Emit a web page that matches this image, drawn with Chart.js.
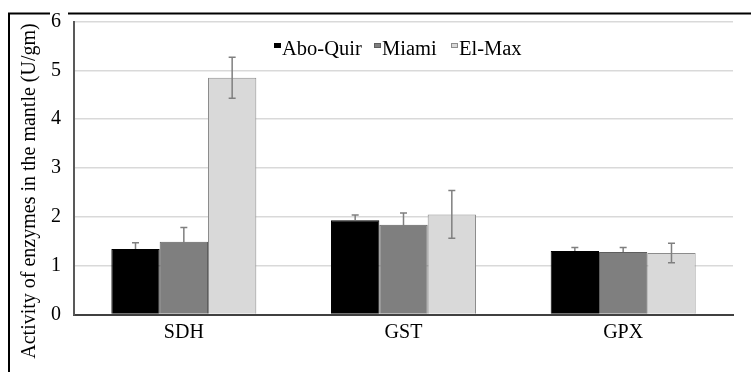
<!DOCTYPE html>
<html>
<head>
<meta charset="utf-8">
<script src="https://cdn.jsdelivr.net/npm/chart.js@4.4.1/dist/chart.umd.min.js"></script>
<style>
  html, body { margin: 0; padding: 0; background: #fff; }
  #wrap { width: 751px; height: 372px; }
</style>
</head>
<body>
<div id="wrap"><canvas id="c" width="751" height="372"></canvas></div>
<script>
// ---- data ----
const categories = ['SDH', 'GST', 'GPX'];
const seriesNames = ['Abo-Quir', 'Miami', 'El-Max'];
const aboQuir = [1.34, 1.93, 1.30];
const miami   = [1.49, 1.84, 1.28];
const elMax   = [4.85, 2.05, 1.26];
const aboQuirErr = [0.13, 0.11, 0.07];
const miamiErr   = [0.29, 0.24, 0.09];
const elMaxErr   = [0.42, 0.49, 0.20];
const yTicks = [0, 1, 2, 3, 4, 5, 6];
const yTitle = 'Activity of enzymes in the mantle (U/gm)';

const FONT = "'Liberation Serif', 'Times New Roman', serif";
const fills = ['#000000', '#7f7f7f', '#d9d9d9'];
const borders = ['#000000', '#5e5e5e', '#8c8c8c'];
const errs = [aboQuirErr, miamiErr, elMaxErr];

const errorBarPlugin = {
  id: 'errorBars',
  afterDatasetsDraw(chart) {
    const ctx = chart.ctx;
    const y = chart.scales.y;
    ctx.save();
    ctx.globalCompositeOperation = 'darken';
    ctx.strokeStyle = '#7f7f7f';
    ctx.lineWidth = 1.5;
    chart.data.datasets.forEach((ds, di) => {
      const meta = chart.getDatasetMeta(di);
      meta.data.forEach((bar, i) => {
        const v = ds.data[i], e = ds.errors[i];
        const x = bar.x;
        const yt = y.getPixelForValue(v + e);
        const yb = y.getPixelForValue(v - e);
        ctx.beginPath();
        ctx.moveTo(x, yt); ctx.lineTo(x, yb);
        ctx.moveTo(x - 3.5, yt); ctx.lineTo(x + 3.5, yt);
        ctx.moveTo(x - 3.5, yb); ctx.lineTo(x + 3.5, yb);
        ctx.stroke();
      });
    });
    ctx.restore();
  }
};

const decorPlugin = {
  id: 'decor',
  beforeDraw(chart) {
    const ctx = chart.ctx;
    ctx.save();
    ctx.fillStyle = '#fff';
    ctx.fillRect(0, 0, chart.width, chart.height);
    ctx.restore();
  },
  afterDraw(chart) {
    const ctx = chart.ctx;
    ctx.save();
    // outer frame (top line broken around the top tick label, left line)
    ctx.strokeStyle = '#000';
    ctx.lineWidth = 2;
    ctx.beginPath();
    ctx.moveTo(9, 372); ctx.lineTo(9, 13.5); ctx.lineTo(50, 13.5);
    ctx.moveTo(68, 13.5); ctx.lineTo(751, 13.5);
    ctx.stroke();
    // y axis title
    ctx.fillStyle = '#000';
    ctx.font = '20px ' + FONT;
    ctx.translate(35, 191);
    ctx.rotate(-Math.PI / 2);
    ctx.textAlign = 'center';
    ctx.textBaseline = 'alphabetic';
    ctx.fillText(yTitle, 0, 0);
    ctx.restore();

    // legend
    ctx.save();
    ctx.font = '20.5px ' + FONT;
    ctx.textBaseline = 'alphabetic';
    ctx.textAlign = 'left';
    const starts = [274, 374, 451];
    chart.data.datasets.forEach((ds, di) => {
      const x0 = starts[di];
      ctx.fillStyle = ds.backgroundColor;
      ctx.fillRect(x0, 43, 7, 5);
      if (di > 0) {
        ctx.strokeStyle = ds.borderColor;
        ctx.lineWidth = 1;
        ctx.strokeRect(x0 + 0.5, 43.5, 6, 4);
      }
      ctx.fillStyle = '#000';
      ctx.fillText(ds.label, x0 + 8, 54.5);
    });
    ctx.restore();
  }
};

const datasets = seriesNames.map((name, i) => ({
  label: name,
  data: [aboQuir, miami, elMax][i],
  errors: errs[i],
  backgroundColor: fills[i],
  borderColor: borders[i],
  borderWidth: 1,
  categoryPercentage: 0.66,
  barPercentage: 1.0
}));

new Chart(document.getElementById('c'), {
  type: 'bar',
  data: { labels: categories, datasets },
  options: {
    responsive: false,
    animation: false,
    layout: { padding: { top: 21.5, right: 18, left: 0, bottom: 0 } },
    plugins: { legend: { display: false }, tooltip: { enabled: false } },
    scales: {
      x: {
        grid: { display: false, drawTicks: false },
        border: { display: true, color: '#404040', width: 2 },
        ticks: { font: { family: FONT, size: 20 }, color: '#000', padding: 6 },
        afterFit(s) { s.height = 57.5; s.paddingLeft = 0; s.paddingRight = 0; }
      },
      y: {
        min: 0, max: 6,
        afterBuildTicks(s) { s.ticks = yTicks.map(v => ({ value: v })); },
        grid: { color: '#d9d9d9', lineWidth: 1.5, drawTicks: false },
        border: { display: true, color: '#595959', width: 2 },
        ticks: { font: { family: FONT, size: 20 }, color: '#000', padding: 13 },
        afterFit(s) { s.width = 74; s.paddingTop = 0; s.paddingBottom = 0; }
      }
    }
  },
  plugins: [errorBarPlugin, decorPlugin]
});
</script>
</body>
</html>
